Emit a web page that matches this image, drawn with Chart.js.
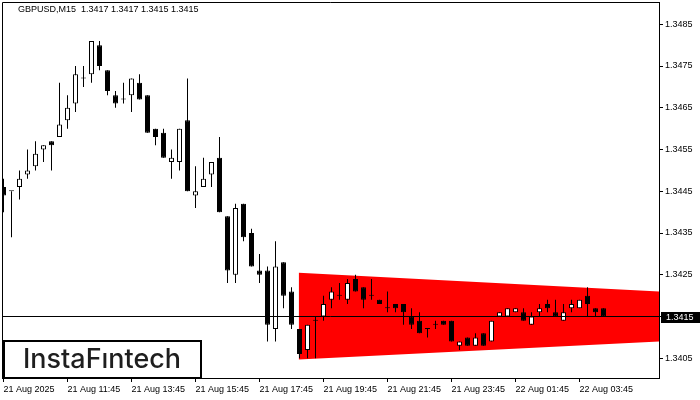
<!DOCTYPE html>
<html>
<head>
<meta charset="utf-8">
<script src="https://cdn.jsdelivr.net/npm/chart.js@4.4.0/dist/chart.umd.min.js"></script>
<style>
    html, body { margin: 0; padding: 0; background: #fff; }
    canvas { display: block; }
</style>
</head>
<body>
<canvas id="myChart" width="700" height="400"></canvas>
<script>
// GBPUSD M15, first candle 21 Aug 2025 09:45
const symbol = 'GBPUSD';
const period = 'M15';

const opens = [
    1.3446, 1.3445, 1.3446, 1.3449, 1.3451, 1.3455, 1.3457, 1.3458, 1.3462, 1.3466,
    1.3472, 1.3473, 1.3480, 1.3474, 1.3468, 1.3467, 1.3468, 1.3471, 1.3468, 1.3460,
    1.3459, 1.3452, 1.3452, 1.3462, 1.3444, 1.3446, 1.3449, 1.3453, 1.3439, 1.3425,
    1.3442, 1.3435, 1.3426, 1.3426, 1.3412, 1.3428, 1.3421, 1.3412, 1.3407, 1.3414,
    1.3415, 1.3419, 1.3420, 1.3419, 1.3424, 1.3422, 1.3420, 1.3419, 1.3417, 1.3418,
    1.3418, 1.3415, 1.3414, 1.3412, 1.3413, 1.3414, 1.3414, 1.3408, 1.3410, 1.3408,
    1.3411, 1.3409, 1.3415, 1.3415, 1.3416, 1.3416, 1.3413, 1.3416, 1.3418, 1.3416,
    1.3414, 1.3417, 1.3417, 1.3420, 1.3417, 1.3417
];
const highs = [
    1.3448, 1.3445, 1.3450, 1.3455, 1.3457, 1.3456, 1.3457, 1.3471, 1.3468, 1.3475,
    1.3475, 1.3481, 1.3481, 1.3474, 1.3469, 1.3471, 1.3472, 1.3473, 1.3468, 1.3460,
    1.3460, 1.3455, 1.3460, 1.3472, 1.3451, 1.3453, 1.3452, 1.3458, 1.3439, 1.3442,
    1.3442, 1.3436, 1.3430, 1.3427, 1.3433, 1.3428, 1.3422, 1.3412, 1.3413, 1.3415,
    1.3420, 1.3422, 1.3423, 1.3424, 1.3425, 1.3422, 1.3424, 1.3419, 1.3421, 1.3418,
    1.3418, 1.3417, 1.3416, 1.3412, 1.3414, 1.3414, 1.3414, 1.3409, 1.3410, 1.3411,
    1.3411, 1.3414, 1.3416, 1.3417, 1.3417, 1.3417, 1.3416, 1.3418, 1.3419, 1.3419,
    1.3418, 1.3419, 1.3419, 1.3422, 1.3417, 1.3417
];
const lows = [
    1.3440, 1.3434, 1.3443, 1.3448, 1.3450, 1.3452, 1.3450, 1.3458, 1.3460, 1.3464,
    1.3470, 1.3471, 1.3474, 1.3468, 1.3465, 1.3466, 1.3464, 1.3467, 1.3459, 1.3456,
    1.3453, 1.3448, 1.3450, 1.3445, 1.3441, 1.3446, 1.3446, 1.3440, 1.3423, 1.3423,
    1.3433, 1.3427, 1.3423, 1.3409, 1.3409, 1.3417, 1.3412, 1.3405, 1.3405, 1.3405,
    1.3414, 1.3417, 1.3419, 1.3418, 1.3421, 1.3417, 1.3419, 1.3418, 1.3416, 1.3416,
    1.3413, 1.3412, 1.3411, 1.3410, 1.3412, 1.3413, 1.3409, 1.3407, 1.3408, 1.3408,
    1.3408, 1.3409, 1.3415, 1.3415, 1.3416, 1.3414, 1.3413, 1.3415, 1.3416, 1.3415,
    1.3414, 1.3416, 1.3417, 1.3415, 1.3415, 1.3415
];
const closes = [
    1.3444, 1.3445, 1.3448, 1.3450, 1.3454, 1.3456, 1.3456, 1.3461, 1.3465, 1.3473,
    1.3472, 1.3481, 1.3475, 1.3469, 1.3466, 1.3467, 1.3472, 1.3467, 1.3459, 1.3458,
    1.3453, 1.3453, 1.3460, 1.3445, 1.3445, 1.3448, 1.3452, 1.3440, 1.3426, 1.3441,
    1.3434, 1.3427, 1.3425, 1.3413, 1.3427, 1.3420, 1.3413, 1.3406, 1.3413, 1.3414,
    1.3418, 1.3421, 1.3420, 1.3423, 1.3421, 1.3419, 1.3420, 1.3418, 1.3417, 1.3417,
    1.3416, 1.3413, 1.3411, 1.3412, 1.3413, 1.3413, 1.3409, 1.3409, 1.3408, 1.3410,
    1.3408, 1.3414, 1.3416, 1.3417, 1.3417, 1.3414, 1.3415, 1.3417, 1.3417, 1.3415,
    1.3416, 1.3418, 1.3419, 1.3418, 1.3416, 1.3415
];

// time axis: candle index -> label
const xTickIdx = [0, 8, 16, 24, 32, 40, 48, 56, 64, 72];
const xTickLabels = [
    '21 Aug 2025', '21 Aug 11:45', '21 Aug 13:45', '21 Aug 15:45', '21 Aug 17:45',
    '21 Aug 19:45', '21 Aug 21:45', '21 Aug 23:45', '22 Aug 01:45', '22 Aug 03:45'
];
const yTicks = [1.3405, 1.3415, 1.3425, 1.3435, 1.3445, 1.3455, 1.3465, 1.3475, 1.3485];

// visible range
const xMin = -0.1875, xMax = 81.9375;
const yMin = 1.340027, yMax = 1.349033;

// bearish triangle (index, price)
const triTop = [{ x: 36.9, y: 1.34255 }, { x: 82, y: 1.34210 }];
const triBottom = [{ x: 36.9, y: 1.34047 }, { x: 82, y: 1.34090 }];

const FONT = 'Liberation Sans';
const idx = opens.map((_, i) => i);
const last = closes.length - 1;

const bodyColor = c => closes[c.dataIndex] >= opens[c.dataIndex] ? '#ffffff' : '#000000';

// frame, title, price tag, logo
const decor = {
    id: 'decor',
    afterDraw(chart) {
        const ctx = chart.ctx;
        const a = chart.chartArea;
        ctx.save();
        ctx.strokeStyle = '#000';
        ctx.lineWidth = 1;
        ctx.beginPath();
        ctx.moveTo(a.left + 0.5, a.bottom);
        ctx.lineTo(a.left + 0.5, a.top + 0.5);
        ctx.lineTo(a.right, a.top + 0.5);
        ctx.stroke();

        ctx.fillStyle = '#000';
        ctx.font = '9px "' + FONT + '"';
        ctx.textBaseline = 'middle';
        ctx.textAlign = 'left';
        const ohlc = [opens[last], highs[last], lows[last], closes[last]].map(v => v.toFixed(4)).join(' ');
        ctx.fillText(symbol + ',' + period + '  ' + ohlc, 18, 10);

        // last price tag
        const py = Math.round(chart.scales.y.getPixelForValue(closes[last]));
        ctx.fillStyle = '#000';
        ctx.fillRect(661, py - 5, 39, 11);
        ctx.fillStyle = '#fff';
        ctx.fillText(closes[last].toFixed(4), 666, py + 0.5);

        // logo
        ctx.fillStyle = '#fff';
        ctx.fillRect(4, 341, 197, 37);
        ctx.lineWidth = 2;
        ctx.strokeStyle = '#000';
        ctx.strokeRect(4, 341, 197, 37);
        let size = 25;
        ctx.font = '500 ' + size + 'px Inter';
        const w = ctx.measureText('InstaFıntech').width;
        size = size * 158 / w;
        ctx.font = '500 ' + size.toFixed(2) + 'px Inter';
        ctx.fillStyle = '#1e1e1e';
        ctx.textBaseline = 'alphabetic';
        ctx.fillText('InstaFıntech', 23, 368);
        ctx.restore();
    }
};

const config = {
    type: 'bar',
    data: {
        datasets: [
            {
                // wicks
                data: idx.map(i => ({ x: i, y: [lows[i], highs[i]] })),
                backgroundColor: '#000',
                borderWidth: 0,
                barThickness: 1,
                grouped: false,
                inflateAmount: 0,
                order: 1
            },
            {
                // bodies
                data: idx.map(i => ({ x: i, y: [opens[i], closes[i]] })),
                backgroundColor: bodyColor,
                borderColor: '#000',
                borderWidth: 1,
                borderSkipped: false,
                barThickness: 5,
                minBarLength: 1,
                grouped: false,
                inflateAmount: 0,
                order: 0
            },
            {
                // bid line
                type: 'line',
                data: [{ x: xMin, y: closes[last] }, { x: xMax, y: closes[last] }],
                borderColor: '#000',
                borderWidth: 1,
                pointRadius: 0,
                fill: false,
                order: -1
            },
            {
                type: 'line',
                data: triTop,
                borderWidth: 0,
                borderColor: 'rgba(0,0,0,0)',
                pointRadius: 0,
                fill: false,
                order: 3
            },
            {
                type: 'line',
                data: triBottom,
                borderWidth: 0,
                borderColor: 'rgba(0,0,0,0)',
                backgroundColor: '#ff0000',
                pointRadius: 0,
                fill: '-1',
                order: 3
            }
        ]
    },
    options: {
        responsive: false,
        devicePixelRatio: 1,
        animation: false,
        layout: { padding: { left: 2, top: 2, right: 0, bottom: 0 }, autoPadding: false },
        plugins: {
            legend: { display: false },
            tooltip: { enabled: false },
            title: { display: false }
        },
        scales: {
            x: {
                type: 'linear',
                min: xMin,
                max: xMax,
                offset: false,
                grid: { display: true, drawOnChartArea: false, offset: false, color: '#000', tickLength: 4 },
                border: { display: true, color: '#000', width: 1 },
                afterBuildTicks: s => { s.ticks = xTickIdx.map(v => ({ value: v })); },
                afterFit: s => { s.height = 22; s.paddingLeft = 0; s.paddingRight = 0; },
                ticks: {
                    autoSkip: false,
                    maxRotation: 0,
                    minRotation: 0,
                    align: 'start',
                    padding: 2,
                    color: '#000',
                    font: { family: FONT, size: 9 },
                    callback: (v, i) => xTickLabels[i]
                }
            },
            y: {
                type: 'linear',
                position: 'right',
                min: yMin,
                max: yMax,
                grid: { display: true, drawOnChartArea: false, color: '#000', tickLength: 4 },
                border: { display: true, color: '#000', width: 1 },
                afterBuildTicks: s => { s.ticks = yTicks.map(v => ({ value: v })); },
                afterFit: s => { s.width = 41; s.paddingTop = 0; s.paddingBottom = 0; },
                ticks: {
                    padding: 2,
                    color: '#000',
                    font: { family: FONT, size: 9 },
                    callback: v => v.toFixed(4)
                }
            }
        }
    },
    plugins: [decor]
};

const myChart = new Chart(document.getElementById('myChart'), config);
</script>
</body>
</html>
